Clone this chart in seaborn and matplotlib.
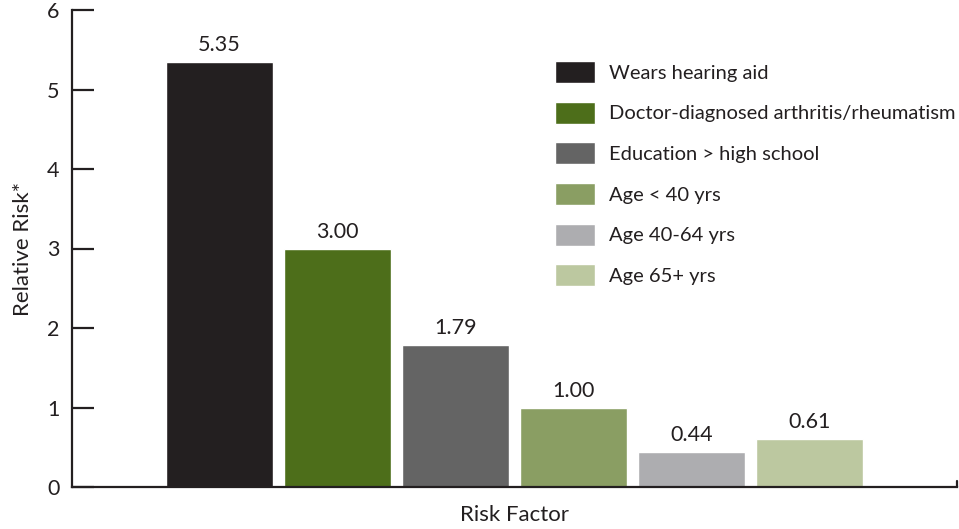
import matplotlib
matplotlib.use("Agg")
import matplotlib.pyplot as plt
import seaborn as sns
import pandas as pd

factors = ["Wears hearing aid", "Doctor-diagnosed arthritis/rheumatism",
           "Education > high school", "Age < 40 yrs", "Age 40-64 yrs", "Age 65+ yrs"]
relative_risk = [5.35, 3.00, 1.79, 1.00, 0.44, 0.61]
bar_colors = ["#231f20", "#4d6e1a", "#646464", "#8a9e63", "#adadb0", "#bcc8a0"]

df = pd.DataFrame({"factor": factors, "risk": relative_risk})

sns.set_style("white")
plt.rcParams["font.family"] = ["Lato", "DejaVu Sans"]
text_color = "#231f20"

fig = plt.figure(figsize=(9.59, 5.29), dpi=100)
ax = fig.add_axes([72 / 959, 42 / 529, 885 / 959, 477 / 529])

sns.barplot(data=df, x="factor", y="risk", hue="factor", palette=bar_colors,
            width=0.9, dodge=False, legend=False, ax=ax, saturation=1)

ax.set_xlim(-1.25, 6.25)
ax.set_ylim(0, 6)
ax.set_yticks(range(0, 7))
ax.set_xticks([])

for c in ax.containers:
    ax.bar_label(c, fmt="%.2f", padding=5, fontsize=15.5, color=text_color)

for s in ["top", "right"]:
    ax.spines[s].set_visible(False)
for s in ["left", "bottom"]:
    ax.spines[s].set_linewidth(1.6)
    ax.spines[s].set_color(text_color)
ax.tick_params(axis="y", left=True, direction="in", length=16, width=1.6, color=text_color,
               pad=9, labelsize=15.5, labelcolor=text_color)
# small end mark at the right of the baseline
ax.plot([1, 1], [0, 0.012], transform=ax.transAxes, color=text_color, lw=1.6, clip_on=False)

ax.set_ylabel("Relative Risk*", fontsize=16, color=text_color, labelpad=10)
ax.set_xlabel("Risk Factor", fontsize=16, color=text_color, labelpad=13)

handles = [c.patches[0] for c in ax.containers]
ax.legend(handles, factors, loc="upper left", bbox_to_anchor=(0.546, 0.893),
          frameon=False, fontsize=14.5, handlelength=2.0, handleheight=1.3,
          labelspacing=0.93, handletextpad=0.65, labelcolor=text_color,
          borderaxespad=0, borderpad=0)

fig.savefig("out.png", dpi=100)
